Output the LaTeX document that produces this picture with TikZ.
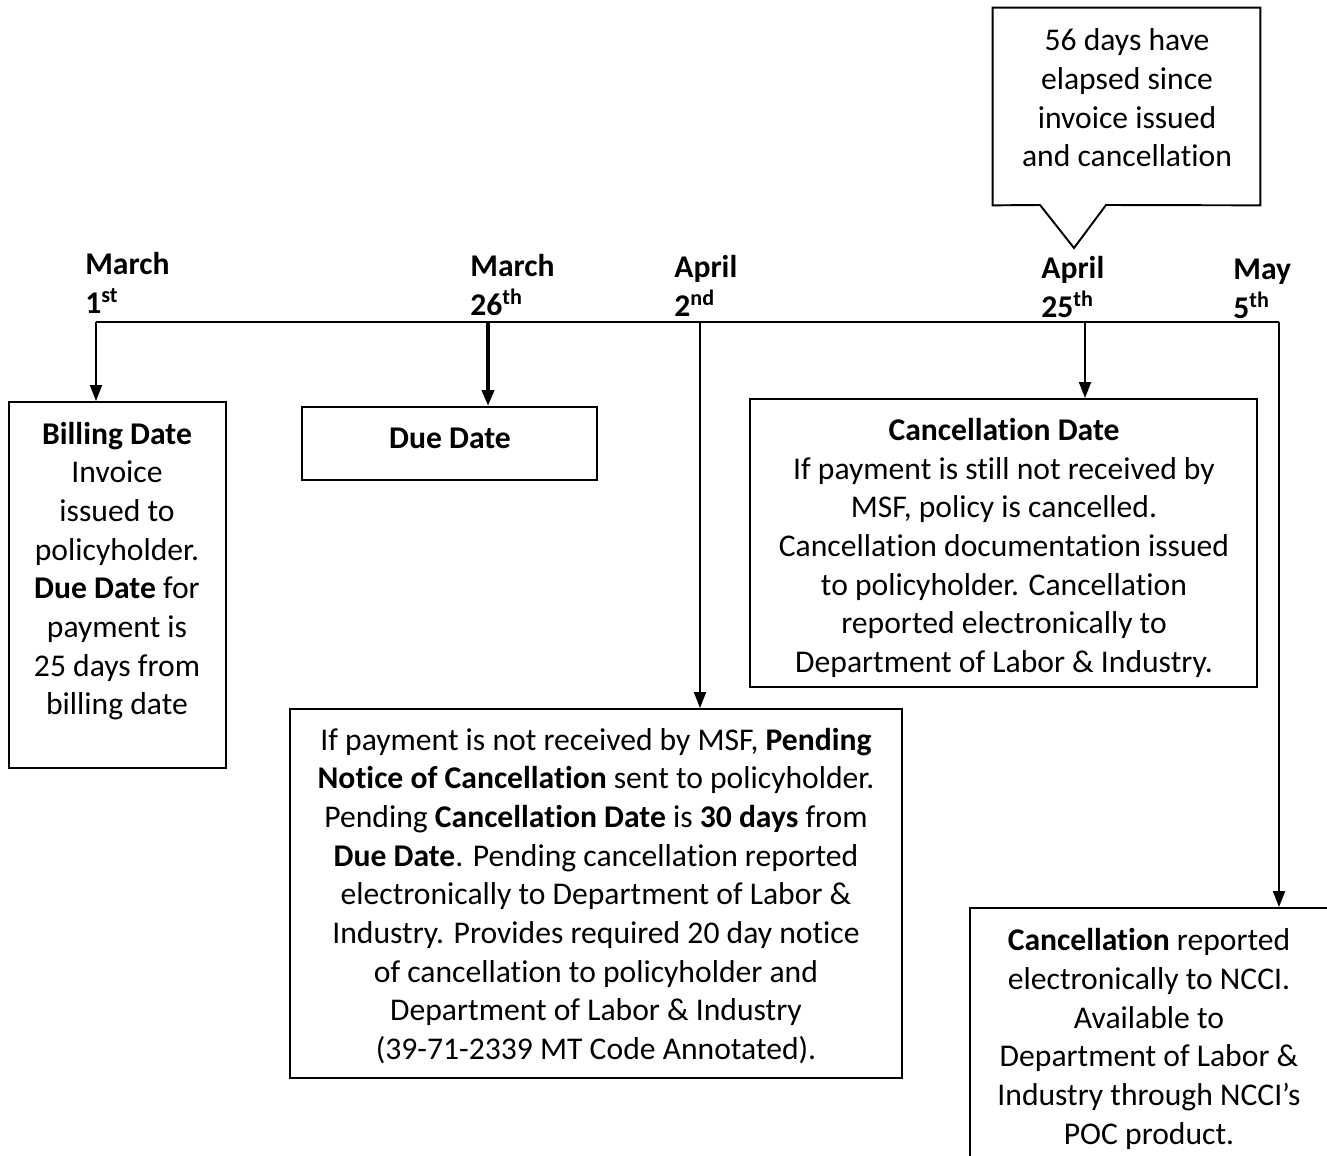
\documentclass[tikz,border=0pt]{standalone}
\usepackage{fontspec}
\setmainfont[Ligatures=NoCommon,Contextuals=NoAlternate]{Carlito}
\usepackage{tikz}
\usetikzlibrary{arrows.meta,positioning,fit}
\definecolor{ink}{HTML}{000000}

\begin{document}
\begin{tikzpicture}[x=0.02cm,y=-0.02cm,font=\fontsize{18}{22}\selectfont,
  frame/.style={draw=ink,line width=1.1pt,inner sep=0pt},
  txt/.style={align=center,inner sep=0pt,color=ink},
  datelbl/.style={anchor=south west,align=left,inner sep=0pt,font=\fontsize{18}{22}\selectfont\bfseries},
  drop/.style={draw=ink,line width=1.1pt,-{Triangle[length=3.2mm,width=2.4mm]}}]
\useasboundingbox (0,0) rectangle (1327,1155);
\clip (0,0) rectangle (1327,1155);
% timeline
\coordinate (t1) at (96,322);
\coordinate (t2) at (488,322);
\coordinate (t3) at (700,322);
\coordinate (t4) at (1085,322);
\coordinate (t5) at (1279,322);
\draw[ink,line width=1.6pt] (t1) -- (t5);
\node[datelbl] (mar1) at (85,314) {March\\1\textsuperscript{st}};
\node[datelbl] (mar26) at (470,316) {March\\26\textsuperscript{th}};
\node[datelbl] (apr2) at (674,317) {April\\2\textsuperscript{nd}};
\node[datelbl] (apr25) at (1041,318) {April\\25\textsuperscript{th}};
\node[datelbl] (may5) at (1233,319) {May\\5\textsuperscript{th}};
% boxes
\node[frame,fit={(9,402) (226,768)}] (bill) {};
\node[frame,fit={(302,407) (597,480)}] (due) {};
\node[frame,fit={(290,709) (902,1078)}] (pend) {};
\node[frame,fit={(750,399) (1257,687)}] (cancel) {};
\node[frame,fit={(970,908) (1345,1175)}] (ncci) {};
\node[txt] (billtxt) at (117,571) {\textbf{Billing Date}\\Invoice\\issued to\\policyholder.\\\textbf{Due Date} for\\payment is\\25 days from\\billing date};
\node[txt] (duetxt) at (450,438) {\textbf{Due Date}};
\node[txt] (pendtxt) at (596,896) {If payment is not received by MSF, \textbf{Pending}\\
  \textbf{Notice of Cancellation} sent to policyholder.\\
  Pending \textbf{Cancellation Date} is \textbf{30 days} from\\
  \textbf{Due Date}.  Pending cancellation reported\\
  electronically to Department of Labor \&\\
  Industry.  Provides required 20 day notice\\
  of cancellation to policyholder and\\
  Department of Labor \& Industry\\
  (39-71-2339 MT Code Annotated).};
\node[txt] (canceltxt) at (1004,548) {\textbf{Cancellation Date}\\
  If payment is still not received by\\
  MSF, policy is cancelled.\\
  Cancellation documentation issued\\
  to policyholder.  Cancellation\\
  reported electronically to\\
  Department of Labor \& Industry.};
\node[txt] (nccitxt) at (1149,1039) {\textbf{Cancellation} reported\\
  electronically to NCCI.\\
  Available to\\
  Department of Labor \&\\
  Industry through NCCI’s\\
  POC product.};
% callout over April 25th
\node[inner sep=0pt,fit={(993,8) (1260,205)}] (note) {};
\coordinate (tip) at (1074,248);
\draw[ink,line width=1.1pt] (note.south west) -- (note.north west) -- (note.north east) -- (note.south east)
  -- (1106,205) -- (tip) -- (1040,205) -- cycle;
\node[txt] (notetxt) at (1127,98) {56 days have\\elapsed since\\invoice issued\\and cancellation};
% drops
\draw[drop] (t1) -- (t1 |- bill.north);
\draw[drop,line width=2.2pt] (t2) -- (t2 |- due.north);
\draw[drop] (t3) -- (t3 |- pend.north);
\draw[drop] (t4) -- (t4 |- cancel.north);
\draw[drop] (t5) -- (t5 |- ncci.north);
\end{tikzpicture}
\end{document}
